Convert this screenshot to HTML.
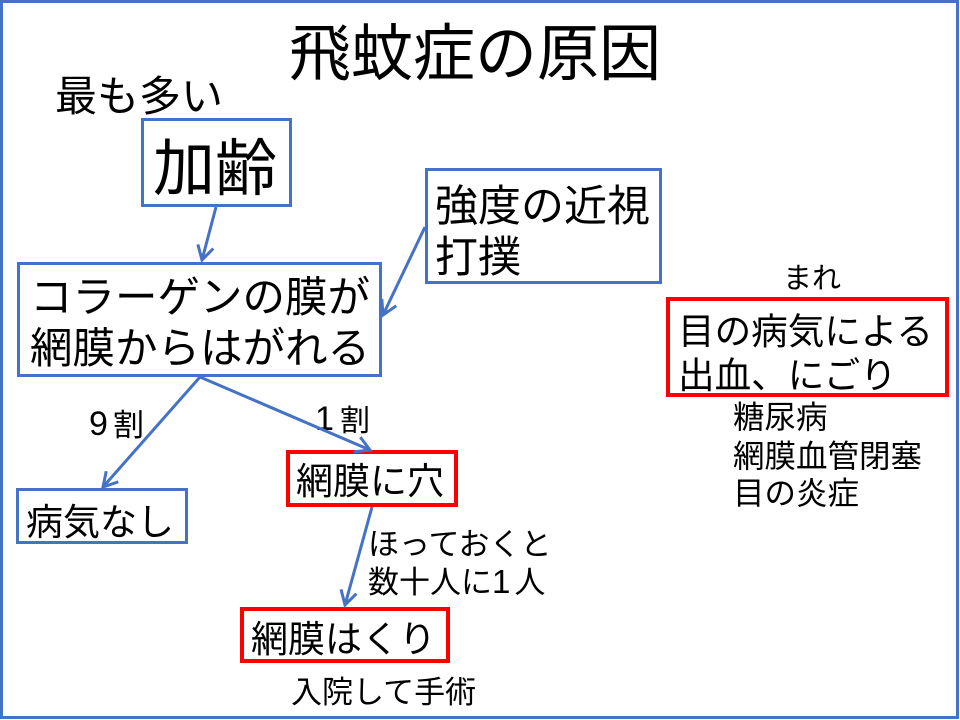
<!DOCTYPE html>
<html><head><meta charset="utf-8"><style>
html,body{margin:0;padding:0;background:#fff;}
svg{display:block;}
text{font-family:"Liberation Sans","Noto Sans CJK JP",sans-serif;fill:#000;}
</style></head><body>
<svg width="960" height="720" viewBox="0 0 960 720" xmlns="http://www.w3.org/2000/svg">
<defs>
<marker id="a" markerWidth="20" markerHeight="20" refX="16" refY="10" orient="auto" markerUnits="userSpaceOnUse">
<path d="M2,2 L16,10 L2,18" fill="none" stroke="#4472C4" stroke-width="3" stroke-linejoin="miter"/>
</marker>
</defs>
<rect x="0" y="0" width="960" height="720" fill="#fff"/>
<rect x="1.5" y="1.5" width="956" height="716" fill="none" stroke="#4472C4" stroke-width="3"/>

<text x="289" y="75" font-size="62">飛蚊症の原因</text>
<text x="55" y="111" font-size="42">最も多い</text>

<rect x="142.5" y="119.5" width="148" height="86" fill="none" stroke="#4472C4" stroke-width="3"/>
<text x="153" y="190" font-size="62">加齢</text>

<rect x="18.5" y="263.5" width="362" height="112" fill="none" stroke="#4472C4" stroke-width="3"/>
<text x="30" y="312" font-size="42.5">コラーゲンの膜が</text>
<text x="30" y="363" font-size="42.5">網膜からはがれる</text>

<rect x="426.5" y="169.5" width="234" height="113" fill="none" stroke="#4472C4" stroke-width="3"/>
<text x="435" y="221" font-size="43">強度の近視</text>
<text x="435" y="272" font-size="43">打撲</text>

<rect x="17.5" y="489.5" width="169" height="53" fill="none" stroke="#4472C4" stroke-width="3"/>
<text x="26" y="535" font-size="37">病気なし</text>

<rect x="288" y="452" width="168" height="53" fill="none" stroke="#FF0000" stroke-width="4"/>
<text x="296" y="494" font-size="37">網膜に穴</text>

<rect x="242" y="609" width="206" height="52" fill="none" stroke="#FF0000" stroke-width="4"/>
<text x="251" y="652" font-size="37">網膜はくり</text>

<rect x="668" y="299" width="279" height="96" fill="none" stroke="#FF0000" stroke-width="4"/>
<text x="678" y="344" font-size="36.6">目の病気による</text>
<text x="678" y="388" font-size="36.6">出血、にごり</text>

<text x="783" y="288" font-size="29">まれ</text>
<text x="733" y="428" font-size="31.5">糖尿病</text>
<text x="733" y="467" font-size="31.5">網膜血管閉塞</text>
<text x="733" y="504" font-size="31.5">目の炎症</text>

<text x="89" y="435" font-size="34">9</text>
<text x="113" y="436" font-size="31">割</text>
<text x="315" y="430" font-size="34">1</text>
<text x="340" y="431" font-size="30">割</text>

<text x="368" y="555" font-size="31">ほっておくと</text>
<text x="368" y="593" font-size="31">数十人に<tspan font-size="33">1</tspan><tspan dx="4">人</tspan></text>
<text x="291" y="703" font-size="31">入院して手術</text>

<g stroke="#4472C4" stroke-width="3" fill="none">
<line x1="216" y1="207" x2="202" y2="260" marker-end="url(#a)"/>
<line x1="425" y1="227" x2="383" y2="315" marker-end="url(#a)"/>
<line x1="200" y1="377" x2="103" y2="487" marker-end="url(#a)"/>
<line x1="200" y1="377" x2="370" y2="450" marker-end="url(#a)"/>
<line x1="372" y1="507" x2="345" y2="605" marker-end="url(#a)"/>
</g>
</svg>
</body></html>
